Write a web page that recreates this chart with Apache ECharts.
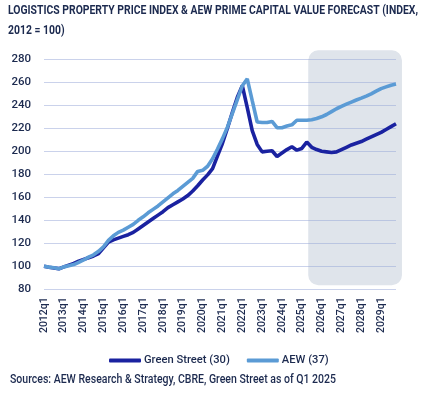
<!DOCTYPE html>
<html><head><meta charset="utf-8">
<script src="https://cdn.jsdelivr.net/npm/echarts@6/dist/echarts.min.js"></script>
<style>html,body{margin:0;padding:0;background:#fff}#c{width:429px;height:394px}</style>
</head><body><div id="c"></div>
<script>
const years = [2012,2013,2014,2015,2016,2017,2018,2019,2020,2021,2022,2023,2024,2025,2026,2027,2028,2029];
const categories = [];
years.forEach(y => { for (let q = 1; q <= 4; q++) categories.push(y + 'q' + q); });

const greenStreet = [100,99.2,98.6,97.8,99.5,101,102.5,104.5,106,107.5,109,111,116,121,123,124.5,
126,127.5,129.5,132.5,135.5,138.5,141.5,144.5,147.5,151,153.5,156,158.5,161.5,165.5,170,
175,179.5,185,196,207,220,234,247,257,238,218,206,199.5,200,200.5,195.5,
198.5,201.5,204,201,202.5,208,203.5,201.5,200,199.5,199,199.5,201.5,203.5,205.5,207,
208.5,210.5,212.5,214.5,216.5,219,221.5,224];

const aew = [100,99.3,98.8,97.8,99.5,100.5,101.5,103.5,105.5,108,110,113,117,122.5,126.5,129.5,
131.5,134,136.5,140,143,146.5,149.5,152.5,156,159.5,163,166,169.5,173,176.5,182.5,
183.5,187,193.5,202,211,221,233,245,257,263,244,225.5,225,225,226,220.5,
220.5,222,223,227,227,227,227.5,228.5,230,232,234.5,237,239,241,
242.8,244.6,246.2,248,250,252.3,254.5,256,257.5,258.5];

const seriesNames = ['Green Street (30)', 'AEW (37)'];
const forecastStart = '2025q2';
const forecastEnd = '2029q4';
const yMin = 80, yMax = 280, yStep = 20;

const titleLines = ['LOGISTICS PROPERTY PRICE INDEX & AEW PRIME CAPITAL VALUE FORECAST (INDEX,', '2012 = 100)'];
const sourceText = 'Sources: AEW Research & Strategy, CBRE, Green Street as of Q1 2025';

const FONT = "Roboto, 'Noto Sans', sans-serif";
const NAVY = '#1c2a4f';

// condense texts by horizontal scaling (reference uses a condensed face)
const mctx = document.createElement('canvas').getContext('2d');
function measure(font, text) { mctx.font = font; return mctx.measureText(text).width; }
const titleFont = "bold 13px " + FONT;
const titleScale = 410 / measure(titleFont, titleLines[0]);
const srcFont = "500 12px " + FONT;
const srcScale = 326 / measure(srcFont, sourceText);

const chart = echarts.init(document.getElementById('c'), null, {renderer: 'canvas'});
chart.setOption({
  animation: false,
  textStyle: {fontFamily: FONT},
  grid: {left: 44, right: 33, top: 59.3, bottom: 104.7},
  xAxis: {
    type: 'category',
    data: categories,
    boundaryGap: false,
    axisLine: {show: false},
    axisTick: {show: false},
    axisLabel: {interval: 3, rotate: 90, margin: 8, color: NAVY, fontSize: 10.5, fontWeight: 500, fontFamily: FONT}
  },
  yAxis: {
    type: 'value',
    min: yMin, max: yMax, interval: yStep,
    axisLine: {show: false},
    axisTick: {show: false},
    axisLabel: {margin: 13, color: NAVY, fontSize: 11.5, fontWeight: 500, fontFamily: FONT},
    splitLine: {lineStyle: {color: 'rgba(150,165,215,0.5)', width: 1}}
  },
  legend: {
    top: 350, left: 104,
    itemWidth: 32, itemHeight: 4, itemGap: 17,
    icon: 'roundRect',
    textStyle: {color: NAVY, fontSize: 11.2, fontWeight: 500, fontFamily: FONT, padding: [0, 0, 0, -2]},
    data: seriesNames
  },
  series: [
    {name: seriesNames[0], type: 'line', data: greenStreet, showSymbol: false, symbol: 'none',
     lineStyle: {color: '#1a22a0', width: 3.6}, itemStyle: {color: '#1a22a0'}, z: 3},
    {name: seriesNames[1], type: 'line', data: aew, showSymbol: false, symbol: 'none',
     lineStyle: {color: '#5b9bd5', width: 3.6}, itemStyle: {color: '#5b9bd5'}, z: 4}
  ]
});

// forecast shading derived from axes
const p0 = chart.convertToPixel({xAxisIndex: 0, yAxisIndex: 0}, [forecastStart, yMax]);
const p1 = chart.convertToPixel({xAxisIndex: 0, yAxisIndex: 0}, [forecastEnd, yMin]);
const step = chart.convertToPixel({xAxisIndex: 0}, categories[1]) - chart.convertToPixel({xAxisIndex: 0}, categories[0]);
const rx0 = p0[0] + step * 0.3, rx1 = p1[0] + step * 1.2;
const ry0 = p0[1] - 9, ry1 = p1[1] - 4;
chart.setOption({
  graphic: [
    {type: 'text', x: 8, y: 4.5, scaleX: titleScale, silent: true,
     style: {text: titleLines[0], fill: NAVY, font: titleFont, textVerticalAlign: 'top'}},
    {type: 'text', x: 8, y: 24.5, scaleX: titleScale, silent: true,
     style: {text: titleLines[1], fill: NAVY, font: titleFont, textVerticalAlign: 'top'}},
    {type: 'text', x: 10, y: 374, scaleX: srcScale, silent: true,
     style: {text: sourceText, fill: NAVY, font: srcFont, textVerticalAlign: 'top'}},
    {type: 'rect', z: -10, silent: true,
     shape: {x: rx0, y: ry0, width: rx1 - rx0, height: ry1 - ry0, r: 10},
     style: {fill: '#dfe4eb'}}
  ]
});
</script></body></html>
